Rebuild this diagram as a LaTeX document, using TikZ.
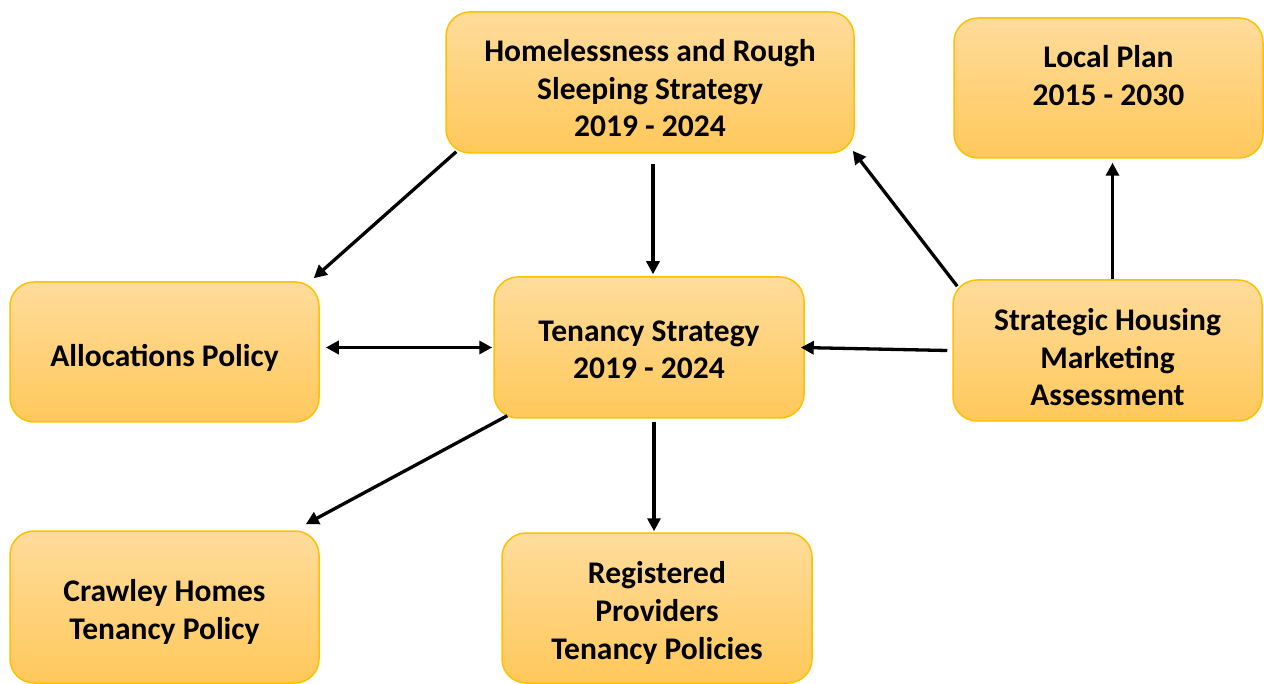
\documentclass[tikz,border=0pt]{standalone}
\usepackage{fontspec}
\setmainfont{Carlito}
\usetikzlibrary{arrows.meta}
\definecolor{boxtop}{HTML}{FFDC9C}
\definecolor{boxbot}{HTML}{FFC85A}
\definecolor{boxline}{HTML}{FFC000}
\newcommand{\btxt}[2]{\raisebox{#1}[\height][\depth]{\begin{tabular}{@{}c@{}}#2\end{tabular}}}
\tikzset{
  pbox/.style={rounded corners=24pt, draw=boxline, line width=1.5pt,
    top color=boxtop, bottom color=boxbot, align=center,
    font=\fontsize{31.5}{37.8}\selectfont\bfseries, inner sep=0pt},
  arr/.style={line width=3.3pt, -{Triangle[length=13pt,width=13pt]}},
  darr/.style={line width=3.3pt, {Triangle[length=13pt,width=13pt]}-{Triangle[length=13pt,width=13pt]}}
}
\begin{document}
\begin{tikzpicture}[x=1pt,y=-1pt]
\useasboundingbox (0,0) rectangle (1264,684);
\node[pbox, minimum width=408pt, minimum height=141pt] (H) at (650,82.5) {\btxt{-9pt}{Homelessness and Rough\\Sleeping Strategy\\2019 - 2024}};
\node[pbox, minimum width=309pt, minimum height=140pt] (L) at (1108.5,88) {\btxt{9pt}{Local Plan\\2015 - 2030}};
\node[pbox, minimum width=309pt, minimum height=140pt] (A) at (164.5,352) {\btxt{-7pt}{Allocations Policy}};
\node[pbox, minimum width=310pt, minimum height=141pt] (T) at (649,347.5) {\btxt{-5pt}{Tenancy Strategy\\2019 - 2024}};
\node[pbox, minimum width=309pt, minimum height=141pt] (S) at (1107.5,350.5) {\btxt{-10pt}{Strategic Housing\\Marketing\\Assessment}};
\node[pbox, minimum width=309pt, minimum height=152pt] (C) at (164.5,607) {\btxt{-6pt}{Crawley Homes\\Tenancy Policy}};
\node[pbox, minimum width=310pt, minimum height=150pt] (R) at (657,608) {\btxt{-6pt}{Registered\\Providers\\Tenancy Policies}};
\draw[arr] ([shift={(11,-2)}]H.south west) -- ([shift={(-6,-3)}]A.north east);
\draw[arr] ([shift={(3,10)}]H.south) -- ([shift={(4,-2)}]T.north);
\draw[darr] ([xshift=6pt]A.east |- T.west) -- ([xshift=-1pt]T.west);
\draw[arr] ([xshift=-5pt]S.west) -- ([xshift=-4pt]T.east);
\draw[arr] ([shift={(5,7)}]S.north west) -- ([shift={(-2,-3)}]H.south east);
\draw[arr] ([xshift=5pt]S.north) -- ([shift={(4,4)}]L.south);
\draw[arr] ([shift={(14,-3)}]T.south west) -- ([shift={(-14,-6)}]C.north east);
\draw[arr] ([shift={(5,3)}]T.south) -- ([shift={(-3,-1)}]R.north);
\end{tikzpicture}
\end{document}
